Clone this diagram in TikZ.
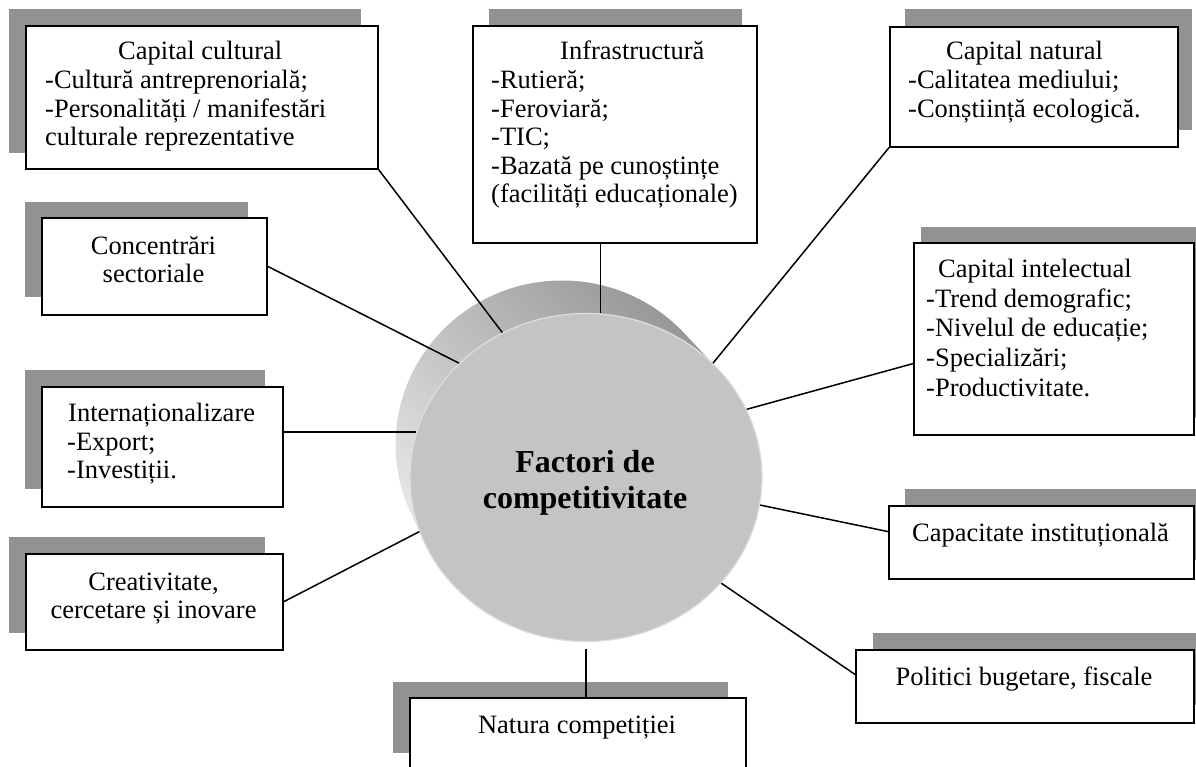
\documentclass[tikz,border=0pt]{standalone}
\usepackage{fontspec}
\setmainfont{Liberation Serif}
\usetikzlibrary{shapes.geometric}
\definecolor{faceGray}{RGB}{196,196,196}
\definecolor{rimGray}{RGB}{222,222,222}
\definecolor{sideDark}{RGB}{148,148,148}
\definecolor{sideLight}{RGB}{236,236,236}
\definecolor{shadowGray}{RGB}{146,146,146}
\begin{document}
\begin{tikzpicture}[x=1pt,y=-1pt,
  frame/.style={draw=black, line width=1.6pt, fill=white, inner sep=0pt, anchor=north west},
  shadowbox/.style={fill=shadowGray},
  txt/.style={inner sep=0pt, font=\fontsize{26.5}{28.5}\selectfont},
  txtwide/.style={inner sep=0pt, font=\fontsize{26.5}{29.75}\selectfont},
  link/.style={draw=black, line width=1.5pt}]

\clip (0,0) rectangle (1196,767);
\fill[white] (0,0) rectangle (1196,767);

% side of the disc: union of ellipses swept from the back face to the front face
\shade[top color=sideDark, bottom color=sideLight, shading angle=-45]
  \foreach \k in {0,...,12} {(586-2*\k,477.5-2.75*\k) ellipse [x radius={176pt-0.8pt*\k}, y radius=164pt]};

% front face
\node[ellipse, minimum width=352pt, minimum height=328pt, inner sep=0pt,
      fill=faceGray, draw=rimGray, line width=1.2pt] (core) at (586,477.5) {};
\node[inner sep=0pt, anchor=north, align=center,
      font=\bfseries\fontsize{32}{36.5}\selectfont] (core-t) at (585,446.45)
      {\strut Factori de\\competitivitate};

% drop shadows
\fill[shadowbox] (9,9) rectangle (361,153);
\fill[shadowbox] (489,9) rectangle (742,226);
\fill[shadowbox] (905,9) rectangle (1192,130);
\fill[shadowbox] (921,227) rectangle (1200,418);
\fill[shadowbox] (25,202) rectangle (248,297);
\fill[shadowbox] (25,370) rectangle (265,489);
\fill[shadowbox] (9,537) rectangle (265,633);
\fill[shadowbox] (905,489) rectangle (1200,560);
\fill[shadowbox] (873,633) rectangle (1200,705);
\fill[shadowbox] (393,682) rectangle (728,753);

% boxes
\node[frame, minimum width=352pt, minimum height=143pt] (cult) at (25,25) {};
\node[frame, minimum width=284pt, minimum height=217pt] (infra) at (472,25) {};
\node[frame, minimum width=288pt, minimum height=120pt] (nat) at (889,26) {};
\node[frame, minimum width=280pt, minimum height=192pt] (intel) at (913,242) {};
\node[frame, minimum width=225pt, minimum height=97pt] (conc) at (41,217) {};
\node[frame, minimum width=241pt, minimum height=120pt] (intl) at (41,386) {};
\node[frame, minimum width=257pt, minimum height=96pt] (creat) at (25,553) {};
\node[frame, minimum width=305pt, minimum height=73pt] (capac) at (888,505) {};
\node[frame, minimum width=338pt, minimum height=73pt] (polit) at (855,649) {};
\node[frame, minimum width=336pt, minimum height=103pt] (natura) at (409,697) {};

% box texts
\node[txt, anchor=base west] (cult-t) at (118,60) {Capital cultural};
\node[txt, anchor=north west, align=left] (cult-b) at (45,68.55)
  {\strut -Cultură antreprenorială;\\-Personalități / manifestări\\culturale reprezentative};

\node[txt, anchor=base west] (infra-t) at (560,60) {Infrastructură};
\node[txt, anchor=north west, align=left] (infra-b) at (491,68.55)
  {\strut -Rutieră;\\-Feroviară;\\-TIC;\\-Bazată pe cunoștințe\\(facilități educaționale)};

\node[txt, anchor=base west] (nat-t) at (946,60) {Capital natural};
\node[txt, anchor=north west, align=left] (nat-b) at (908,68.55)
  {\strut -Calitatea mediului;\\-Conștiință ecologică.};

\node[txtwide, anchor=base west] (intel-t) at (938,277) {Capital intelectual};
\node[txtwide, anchor=north west, align=left] (intel-b) at (926,286.2)
  {\strut -Trend demografic;\\-Nivelul de educație;\\-Specializări;\\-Productivitate.};

\node[txt, anchor=north, align=center] (conc-t) at (153.5,234.05)
  {\strut Concentrări\\sectoriale};

\node[txt, anchor=base west] (intl-t) at (68,421.5) {Internaționalizare};
\node[txt, anchor=north west, align=left] (intl-b) at (67,430.05)
  {\strut -Export;\\-Investiții.};

\node[txt, anchor=north, align=center] (creat-t) at (153.5,570.05)
  {\strut Creativitate,\\cercetare și inovare};

\node[txt, anchor=base] (capac-t) at (1040.5,541.5) {Capacitate instituțională};
\node[txt, anchor=base] (polit-t) at (1024,685) {Politici bugetare, fiscale};
\node[txt, anchor=base] (natura-t) at (577,733) {Natura competiției};

% connectors
\draw[link] (cult.south east) -- (core.120);
\draw[link] (infra.south -| core.85) -- (core.85);
\draw[link] (nat.south west) -- (core.42);
\draw[link] (conc.east) -- (core.138);
\draw[link] (intl.east |- core.165) -- (core.165);
\draw[link] (creat.east) -- (core.198);
\draw[link] (intel.190) -- (core.23);
\draw[link] (capac.176) -- (core.351);
\draw[link] (polit.176) -- (core.322);
\draw[link] ([yshift=-7pt]core.south) -- (core.south |- natura.north);
\end{tikzpicture}
\end{document}
